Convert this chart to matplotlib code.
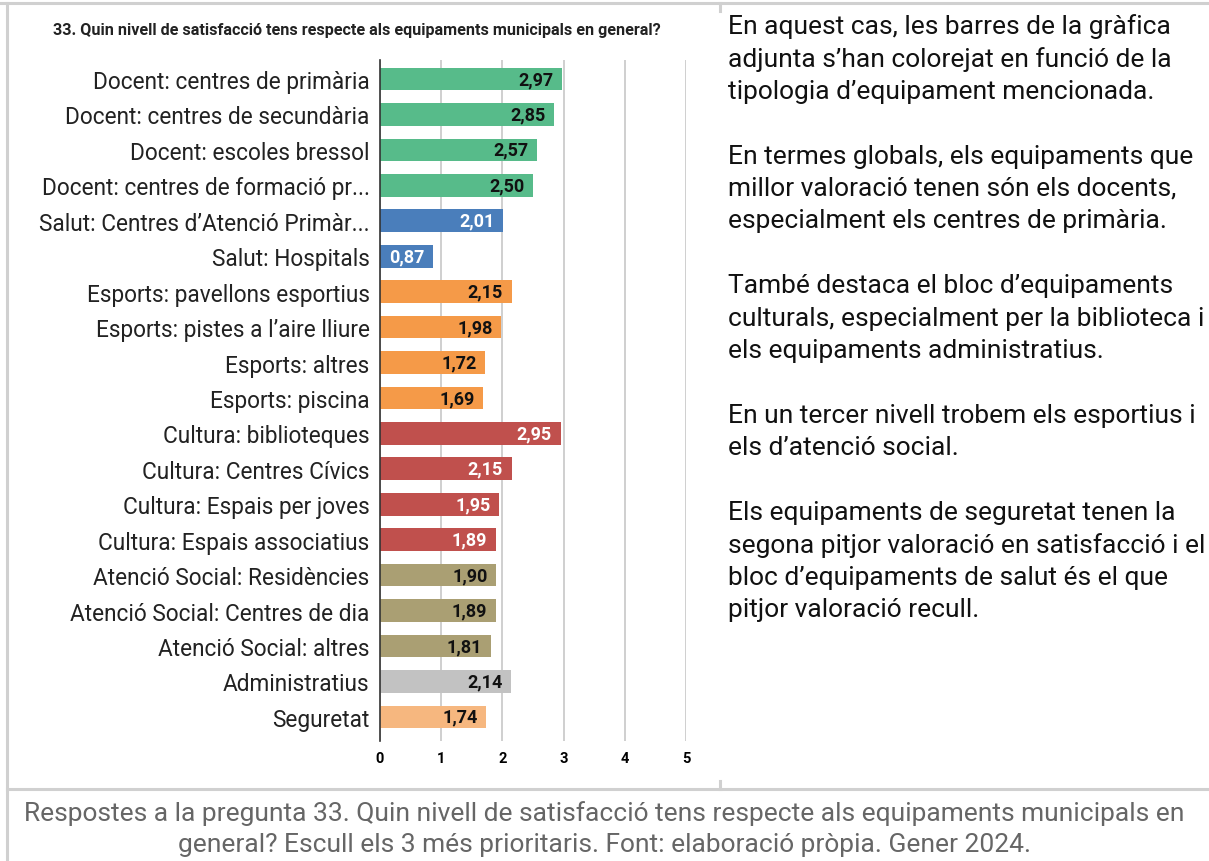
import matplotlib.pyplot as plt
from matplotlib.lines import Line2D

plt.rcParams['font.family'] = ['Roboto', 'DejaVu Sans']

title = '33. Quin nivell de satisfacció tens respecte als equipaments municipals en general?'

categories = [
    'Docent: centres de primària',
    'Docent: centres de secundària',
    'Docent: escoles bressol',
    'Docent: centres de formació pr...',
    'Salut: Centres d’Atenció Primàr...',
    'Salut: Hospitals',
    'Esports: pavellons esportius',
    'Esports: pistes a l’aire lliure',
    'Esports: altres',
    'Esports: piscina',
    'Cultura: biblioteques',
    'Cultura: Centres Cívics',
    'Cultura: Espais per joves',
    'Cultura: Espais associatius',
    'Atenció Social: Residències',
    'Atenció Social: Centres de dia',
    'Atenció Social: altres',
    'Administratius',
    'Seguretat',
]
values = [2.97, 2.85, 2.57, 2.50, 2.01, 0.87, 2.15, 1.98, 1.72, 1.69,
          2.95, 2.15, 1.95, 1.89, 1.90, 1.89, 1.81, 2.14, 1.74]
groups = ['Docent'] * 4 + ['Salut'] * 2 + ['Esports'] * 4 + ['Cultura'] * 4 + \
         ['Social'] * 3 + ['Admin', 'Seguretat']

group_colors = {
    'Docent': '#57bb8a',
    'Salut': '#4a7ebb',
    'Esports': '#f59a48',
    'Cultura': '#c0504d',
    'Social': '#aa9f73',
    'Admin': '#c2c2c2',
    'Seguretat': '#f6b77f',
}
white_text = {'Salut', 'Cultura'}

side_text = [
    'En aquest cas, les barres de la gràfica',
    'adjunta s’han colorejat en funció de la',
    'tipologia d’equipament mencionada.',
    '',
    'En termes globals, els equipaments que',
    'millor valoració tenen són els docents,',
    'especialment els centres de primària.',
    '',
    'També destaca el bloc d’equipaments',
    'culturals, especialment per la biblioteca i',
    'els equipaments administratius.',
    '',
    'En un tercer nivell trobem els esportius i',
    'els d’atenció social.',
    '',
    'Els equipaments de seguretat tenen la',
    'segona pitjor valoració en satisfacció i el',
    'bloc d’equipaments de salut és el que',
    'pitjor valoració recull.',
]

caption = ('Respostes a la pregunta 33. Quin nivell de satisfacció tens respecte als equipaments municipals en\n'
           'general? Escull els 3 més prioritaris. Font: elaboració pròpia. Gener 2024.')

W, H = 1209, 862
fig = plt.figure(figsize=(W / 100, H / 100), dpi=100)
fig.patch.set_facecolor('white')


def fx(px):
    return px / W


def fy(py):
    return 1 - py / H


# table borders of the document page
border = '#d0d0d0'
for xs, ys in [((0, W), (4, 4)), ((7, 7), (4, H)), ((720, 720), (4, 12)),
               ((720, 720), (782, 790)), ((7, W), (790, 790))]:
    fig.add_artist(Line2D([fx(x) for x in xs], [fy(y) for y in ys],
                          color=border, lw=2.2, transform=fig.transFigure))

# chart
ax = fig.add_axes([fx(380), fy(742), fx(686 - 380), (742 - 60.5) / H])
y = list(range(len(categories)))
colors = [group_colors[g] for g in groups]
ax.barh(y, values, height=0.64, color=colors, zorder=3)
for yi, v, g in zip(y, values, groups):
    tc = 'white' if g in white_text else '#111111'
    ax.text(v - 0.14, yi, f'{v:.2f}'.replace('.', ','), ha='right', va='center',
            fontsize=13, fontweight='bold', color=tc, zorder=4)

ax.set_xlim(0, 5)
ax.set_ylim(18.68, -0.55)
ax.set_xticks(range(6))
ax.set_xticklabels([str(i) for i in range(6)], fontsize=10.5, fontweight='bold')
ax.set_yticks(y)
ax.set_yticklabels(categories, fontsize=16.3, color='#222222')
ax.tick_params(axis='x', length=0, pad=7)
ax.tick_params(axis='y', length=0, pad=7.5)
ax.grid(axis='x', color='#cccccc', lw=1.3, zorder=0)
for side in ['top', 'right', 'bottom']:
    ax.spines[side].set_visible(False)
ax.spines['left'].set_color('#333333')
ax.spines['left'].set_linewidth(1.2)
ax.spines['left'].set_zorder(5)

fig.text(fx(53), fy(31), title, fontsize=11.6, fontweight='bold', color='#222222',
         ha='left', va='center')

# right column commentary
line_h = 32.4
for i, line in enumerate(side_text):
    if line:
        fig.text(fx(728), fy(27 + i * line_h), line, fontsize=19, color='#111111',
                 ha='left', va='center')

fig.text(0.5, fy(829), caption, fontsize=19, color='#666666', ha='center',
         va='center', linespacing=1.38)

fig.savefig('out.png', dpi=100, facecolor='white')
